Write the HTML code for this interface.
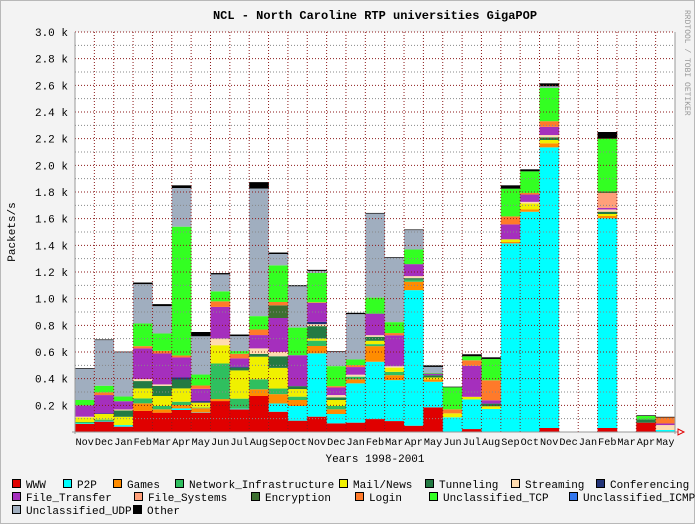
<!DOCTYPE html>
<html><head><meta charset="utf-8"><style>
body{margin:0;background:#f3f3f3;}
svg{display:block;font-family:"Liberation Mono",monospace;}
</style></head><body>
<svg id="c" width="695" height="524">
<rect x="0.5" y="0.5" width="694" height="523" fill="#f3f3f3" stroke="#b8b8b8"/>
<rect x="75" y="32" width="600" height="400" fill="#ffffff"/>
<g id="bars"></g><g id="grid"></g><g id="axes"></g><g id="legend"></g>
<text x="375" y="19" text-anchor="middle" font-size="12" font-weight="bold">NCL - North Caroline RTP universities GigaPOP</text>
<text transform="translate(685,10) rotate(90)" font-size="8" fill="#999">RRDTOOL / TOBI OETIKER</text>
<text transform="translate(15,232) rotate(-90)" text-anchor="middle" font-size="11">Packets/s</text>
<text x="375" y="462" text-anchor="middle" font-size="11">Years 1998-2001</text>
</svg>
<script>
const months=["Nov","Dec","Jan","Feb","Mar","Apr","May","Jun","Jul","Aug","Sep","Oct","Nov","Dec","Jan","Feb","Mar","Apr","May","Jun","Jul","Aug","Sep","Oct","Nov","Dec","Jan","Feb","Mar","Apr","May"];
const yTicks=[0.2,0.4,0.6,0.8,1.0,1.2,1.4,1.6,1.8,2.0,2.2,2.4,2.6,2.8,3.0];
const seriesNames=["WWW","P2P","Games","Network_Infrastructure","Mail/News","Tunneling","Streaming","Conferencing","File_Transfer","File_Systems","Encryption","Login","Unclassified_TCP","Unclassified_ICMP","Unclassified_UDP","Other"];
const www=[60,78,40,158,145,165,145,232,170,270,152,85,115,65,70,97,82,47,185,0,22,3,0,0,30,0,0,30,0,70,0];
const p2p=[5,5,12,0,0,12,3,0,5,0,62,110,475,70,295,430,307,1017,192,110,222,170,1415,1652,2105,0,0,1573,0,0,15];
const games=[0,0,0,57,25,25,30,15,0,50,70,45,55,35,30,117,37,63,17,0,0,0,10,17,30,0,0,17,0,0,0];
const netInfra=[10,10,0,37,25,25,5,267,75,75,42,25,40,25,20,15,25,15,0,0,0,0,0,0,0,0,0,0,0,0,0];
const mail=[35,42,62,75,75,100,37,137,212,170,155,57,17,45,0,25,32,0,15,30,20,20,20,45,25,0,0,15,0,0,0];
const tunneling=[0,0,47,55,75,67,0,0,20,20,87,22,92,20,0,30,0,12,17,0,0,20,0,0,20,0,0,17,0,25,0];
const streaming=[5,0,8,15,12,0,0,50,0,42,32,0,15,17,15,12,10,15,0,0,0,0,0,12,17,0,0,17,0,0,37];
const conferencing=[0,5,0,0,0,15,12,0,8,0,0,0,17,0,0,0,0,0,0,0,0,0,0,0,0,0,0,0,0,0,0];
const fileTransfer=[85,137,62,230,232,150,92,237,62,100,255,232,142,57,57,162,232,90,12,0,232,25,112,55,62,0,0,12,0,0,12];
const fileSystems=[0,0,0,0,0,0,0,0,0,0,0,0,0,0,0,0,0,0,0,0,0,0,0,0,0,0,0,112,0,0,0];
const encryption=[0,0,0,0,0,0,0,0,0,0,95,0,0,0,0,0,0,0,0,0,0,0,0,0,0,0,0,12,0,0,0];
const login=[0,20,0,17,20,15,25,42,35,42,25,0,5,10,15,0,17,0,0,30,42,150,60,12,42,0,0,0,0,0,45];
const tcp=[40,50,35,170,130,966,82,75,20,100,275,207,220,150,42,120,82,110,5,165,30,160,208,162,250,0,0,395,0,25,0];
const icmp=[0,0,0,0,0,0,0,0,0,0,0,0,0,0,0,0,0,0,0,0,0,0,0,0,0,0,0,0,0,0,0];
const udp=[235,342,332,295,205,290,287,127,112,957,85,310,15,107,340,630,483,145,45,0,0,0,0,0,12,0,0,0,0,0,0];
const other=[5,5,5,12,15,20,32,10,12,48,11,8,8,5,10,5,5,5,12,5,15,12,25,15,22,0,0,50,0,5,5];
const seriesData=[www,p2p,games,netInfra,mail,tunneling,streaming,conferencing,fileTransfer,fileSystems,encryption,login,tcp,icmp,udp,other];
const colors=["#e00000","#00ffff","#ff8c00","#2fbf5f","#f0f000","#237a43","#ffdcb0","#223377","#a52fbd","#ffa07a","#3d7030","#ff7a2a","#33ff22","#3377ee","#a0aebf","#000000"];
const NS="http://www.w3.org/2000/svg";
const X0=75,X1=675,Y0=432,YT=32,YMAX=3000;
const bw=(X1-X0)/months.length;
const xs=i=>X0+i*bw;
const ys=v=>Y0-v/YMAX*(Y0-YT);
function mk(t,a,p){const e=document.createElementNS(NS,t);for(const k in a)e.setAttribute(k,a[k]);p.appendChild(e);return e;}
const bars=document.getElementById('bars');
months.forEach((m,i)=>{let acc=0;
 seriesData.forEach((s,j)=>{const v=s[i];if(v<=0)return;
  const r=mk('rect',{x:xs(i),y:ys(acc+v),width:bw+0.3,height:ys(acc)-ys(acc+v),fill:colors[j]},bars);
  
  
  acc+=v;});
});
const grid=document.getElementById('grid');
for(let k=1;k<=30;k++){const y=ys(k*100);const major=k%2==0;
 const l=mk('line',{x1:X0,x2:X1,y1:y,y2:y,stroke:major?'#8b1a1a':'#888','stroke-width':1,'stroke-dasharray':'1,2'},grid);
 
 }
for(let i=1;i<months.length;i++){const x=xs(i);
 const l=mk('line',{x1:x,x2:x,y1:YT,y2:Y0,stroke:'#8b1a1a','stroke-width':1,'stroke-dasharray':'1,2'},grid);
 
 }
const axes=document.getElementById('axes');
let a=mk('line',{x1:X0,x2:X0,y1:YT,y2:Y0+2,stroke:'#999'},axes);

a=mk('line',{x1:X1,x2:X1,y1:YT,y2:Y0+2,stroke:'#999'},axes);

a=mk('line',{x1:X0-3,x2:X1+3,y1:Y0,y2:Y0,stroke:'#999'},axes);

a=mk('path',{d:`M${X1+3} ${Y0-3} L${X1+9} ${Y0} L${X1+3} ${Y0+3} Z`,fill:'none',stroke:'#e00000'},axes);

yTicks.forEach(v=>{const t=mk('text',{x:68,y:ys(v*1000)+4,'text-anchor':'end','font-size':11},axes);
 t.textContent=v.toFixed(1)+' k';
 
 });
months.forEach((m,i)=>{const t=mk('text',{x:xs(i)+bw/2,y:445,'text-anchor':'middle','font-size':10.5,textLength:bw-1,lengthAdjust:'spacingAndGlyphs'},axes);
 t.textContent=m;
 
 });
const lg=document.getElementById('legend');
const lpos=[[12,484],[63,484],[113,484],[175,484],[339,484],[425,484],[511,484],[596,484],[12,497],[134,497],[251,497],[355,497],[429,497],[569,497],[12,510],[133,510]];
seriesNames.forEach((n,j)=>{const [x,y]=lpos[j];
 const g=mk('g',{},lg);
 
 
 mk('rect',{x:x+0.5,y:y-4.5,width:8,height:8,fill:colors[j],stroke:'#000'},g);
 const t=mk('text',{x:x+14,y:y+4,'font-size':11},g);t.textContent=n;});
</script>
</body></html>
